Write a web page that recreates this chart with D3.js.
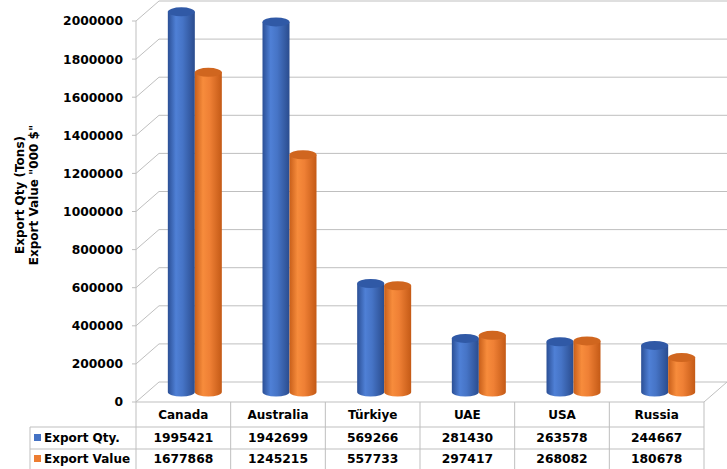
<!DOCTYPE html>
<html>
<head>
<meta charset="utf-8">
<script src="https://cdn.jsdelivr.net/npm/d3@7"></script>
<style>
  body { margin: 0; background: #fff; }
  text { font-family: "DejaVu Sans", Verdana, sans-serif; font-weight: bold; fill: #000; }
</style>
</head>
<body>
<svg></svg>
<script>
// chart values
const categories = ["Canada", "Australia", "Türkiye", "UAE", "USA", "Russia"];
const exportQty = [1995421, 1942699, 569266, 281430, 263578, 244667];
const exportValue = [1677868, 1245215, 557733, 297417, 268082, 180678];
const seriesNames = ["Export Qty.", "Export Value"];
const yTicks = [0, 200000, 400000, 600000, 800000, 1000000, 1200000, 1400000, 1600000, 1800000, 2000000];

const w = 727;
const h = 469;
const left = 136;      // front edge of the plot / table
const right = 704;
const floorY = 402;
const topY = 21;
// depth of the 3d box
const dx = 23;
const dy = -20;
const gridColor = "#bfbfbf";

const svg = d3.select("svg")
              .attr("width", w)
              .attr("height", h);

const yScale = d3.scaleLinear()
                 .domain([0, 2000000])
                 .range([floorY, topY]);

const xScale = d3.scaleBand()
                 .domain(categories)
                 .range([left, right]);

const barW = 27;

// gradients for the cylinders
const defs = svg.append("defs");
function cylGradient(id, stops){
  defs.append("linearGradient")
      .attr("id", id)
      .attr("x1", "0%").attr("x2", "100%")
      .attr("y1", "0%").attr("y2", "0%")
    .selectAll("stop")
      .data(stops)
      .enter().append("stop")
      .attr("offset", (d) => d[0])
      .attr("stop-color", (d) => d[1]);
}
cylGradient("blueGrad", [["0%", "#2b4f95"], ["30%", "#4f80d6"], ["55%", "#4674c6"], ["100%", "#2a4c8e"]]);
cylGradient("orangeGrad", [["0%", "#c85f1a"], ["30%", "#f78c3c"], ["55%", "#ef8035"], ["100%", "#c45a16"]]);

// left wall diagonals and back wall gridlines
const grid = svg.append("g");
grid.selectAll(".diag")
    .data(yTicks)
    .enter().append("line")
    .attr("x1", left).attr("y1", (d) => yScale(d))
    .attr("x2", left + dx).attr("y2", (d) => yScale(d) + dy)
    .attr("stroke", gridColor);

grid.selectAll(".back")
    .data(yTicks)
    .enter().append("line")
    .attr("x1", left + dx).attr("y1", (d) => yScale(d) + dy)
    .attr("x2", w).attr("y2", (d) => yScale(d) + dy)
    .attr("stroke", gridColor);

// floor right edge
grid.append("line")
    .attr("x1", right).attr("y1", floorY)
    .attr("x2", right + dx).attr("y2", floorY + dy)
    .attr("stroke", gridColor);

// axis line and ticks
grid.append("line")
    .attr("x1", left).attr("y1", yScale(2000000))
    .attr("x2", left).attr("y2", h)
    .attr("stroke", gridColor);
grid.selectAll(".tick")
    .data(yTicks)
    .enter().append("line")
    .attr("x1", left - 4).attr("x2", left)
    .attr("y1", (d) => yScale(d)).attr("y2", (d) => yScale(d))
    .attr("stroke", gridColor);

svg.append("g")
   .selectAll("text")
   .data(yTicks)
   .enter().append("text")
   .attr("x", 123)
   .attr("y", (d) => yScale(d))
   .attr("dy", "0.36em")
   .attr("text-anchor", "end")
   .style("font-size", "12.3px")
   .text((d) => d);

// axis title, two lines
const title = svg.append("text")
                 .attr("transform", "translate(0,195) rotate(-90)")
                 .attr("text-anchor", "middle")
                 .style("font-size", "12px");
title.append("tspan").attr("x", 0).attr("y", 24).text("Export Qty (Tons)");
title.append("tspan").attr("x", 0).attr("y", 38).text("Export Value \"000 $\"");

// cylinders, placed half way into the depth
const bars = [];
categories.forEach((c, i) => {
  bars.push({cat: c, v: exportQty[i], s: 0});
  bars.push({cat: c, v: exportValue[i], s: 1});
});

const ry = 4.5;
const cyl = svg.append("g")
               .selectAll("g")
               .data(bars)
               .enter().append("g")
               .attr("transform", (d) => {
                 var cx = xScale(d.cat) + xScale.bandwidth()/2 + dx/2 + (d.s == 0 ? -barW/2 : barW/2);
                 return "translate(" + cx + ",0)";
               });

cyl.append("path")
   .attr("d", (d) => {
     var yt = yScale(d.v) + dy/2;
     var yb = yScale(0) + dy/2;
     var r = barW/2;
     return "M" + (-r) + "," + yt + " L" + (-r) + "," + yb +
            " A" + r + "," + ry + " 0 0,0 " + r + "," + yb +
            " L" + r + "," + yt + " Z";
   })
   .attr("fill", (d) => d.s == 0 ? "url(#blueGrad)" : "url(#orangeGrad)");

cyl.append("ellipse")
   .attr("cx", 0)
   .attr("cy", (d) => yScale(d.v) + dy/2)
   .attr("rx", barW/2)
   .attr("ry", ry)
   .attr("fill", (d) => d.s == 0 ? "#3059a6" : "#d0661f");

// data table under the chart
const rowY = [floorY, 427, 449, h + 2];
const table = svg.append("g");

table.selectAll(".hline")
     .data(rowY.slice(0, 3))
     .enter().append("line")
     .attr("x1", (d, i) => i == 0 ? left : 30)
     .attr("x2", right)
     .attr("y1", (d) => d).attr("y2", (d) => d)
     .attr("stroke", gridColor);

table.selectAll(".vline")
     .data(categories)
     .enter().append("line")
     .attr("x1", (d) => xScale(d) + xScale.bandwidth())
     .attr("x2", (d) => xScale(d) + xScale.bandwidth())
     .attr("y1", floorY).attr("y2", h)
     .attr("stroke", gridColor);

table.append("line")
     .attr("x1", 30).attr("x2", 30)
     .attr("y1", rowY[1]).attr("y2", h)
     .attr("stroke", gridColor);

table.selectAll(".cat")
     .data(categories)
     .enter().append("text")
     .attr("x", (d) => xScale(d) + xScale.bandwidth()/2)
     .attr("y", (rowY[0] + rowY[1])/2)
     .attr("dy", "0.36em")
     .attr("text-anchor", "middle")
     .style("font-size", "12px")
     .text((d) => d);

const rows = [exportQty, exportValue];
const colors = ["#4472c4", "#ed7d31"];
rows.forEach((vals, r) => {
  var cy = (rowY[r+1] + rowY[r+2]) / 2 - (r == 1 ? 1 : 0);
  table.selectAll(".val" + r)
       .data(vals)
       .enter().append("text")
       .attr("x", (d, i) => xScale(categories[i]) + xScale.bandwidth()/2)
       .attr("y", cy)
       .attr("dy", "0.36em")
       .attr("text-anchor", "middle")
       .style("font-size", "12.3px")
       .text((d) => d);

  table.append("rect")
       .attr("x", 34).attr("y", cy - 4)
       .attr("width", 7).attr("height", 7)
       .attr("fill", colors[r]);
  table.append("text")
       .attr("x", 44).attr("y", cy)
       .attr("dy", "0.36em")
       .style("font-size", "12px")
       .text(seriesNames[r]);
});
</script>
</body>
</html>
